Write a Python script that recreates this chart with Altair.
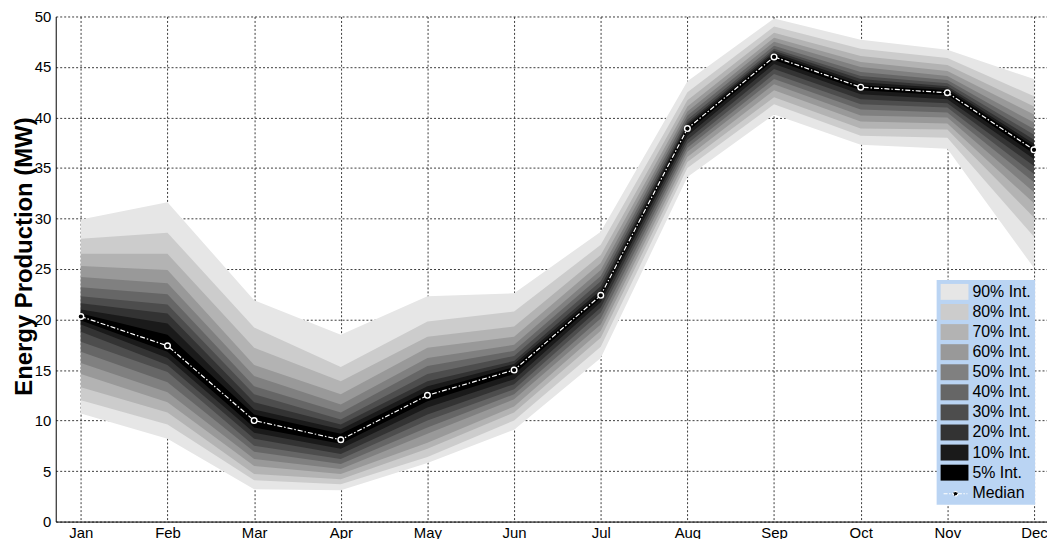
import altair as alt
import pandas as pd

months = ["Jan", "Feb", "Mar", "Apr", "May", "Jun", "Jul", "Aug", "Sep", "Oct", "Nov", "Dec"]

# upper bounds of each interval (MW)
hi90 = [29.9, 31.6, 21.9, 18.5, 22.3, 22.6, 28.7, 43.6, 49.8, 47.7, 46.7, 43.8]
hi80 = [28.0, 28.6, 19.2, 15.3, 19.8, 20.8, 27.4, 42.5, 49.0, 46.8, 45.9, 42.1]
hi70 = [26.5, 26.5, 17.2, 13.9, 18.3, 19.3, 26.4, 41.7, 48.4, 46.1, 45.2, 41.1]
hi60 = [25.3, 24.9, 15.5, 12.6, 17.2, 18.3, 25.6, 41.1, 47.9, 45.5, 44.6, 40.3]
hi50 = [24.2, 23.6, 14.4, 11.6, 16.2, 17.5, 24.9, 40.6, 47.5, 45.0, 44.1, 39.5]
hi40 = [23.2, 22.5, 13.4, 10.8, 15.4, 16.9, 24.3, 40.2, 47.1, 44.5, 43.7, 38.85]
hi30 = [22.3, 21.5, 12.6, 10.1, 14.6, 16.4, 23.8, 39.8, 46.8, 44.1, 43.4, 38.3]
hi20 = [21.6, 20.6, 11.8, 9.6, 13.9, 15.9, 23.3, 39.5, 46.6, 43.8, 43.1, 37.8]
hi10 = [21.0, 19.6, 11.1, 9.15, 13.4, 15.6, 22.9, 39.3, 46.4, 43.5, 42.9, 37.4]
hi05 = [20.6, 18.5, 10.6, 8.7, 12.9, 15.3, 22.6, 39.1, 46.2, 43.2, 42.7, 37.1]

median = [20.3, 17.4, 10.0, 8.1, 12.5, 15.0, 22.4, 38.9, 46.0, 43.0, 42.45, 36.8]

# lower bounds of each interval (MW)
lo05 = [19.9, 16.8, 9.3, 7.7, 11.9, 14.6, 22.1, 38.6, 45.7, 42.7, 42.2, 36.4]
lo10 = [19.5, 16.2, 8.8, 7.2, 11.3, 14.1, 21.7, 38.2, 45.3, 42.3, 41.8, 35.9]
lo20 = [18.8, 15.5, 8.2, 6.7, 10.6, 13.6, 21.2, 37.8, 44.8, 41.8, 41.4, 35.2]
lo30 = [17.8, 14.8, 7.5, 6.2, 10.0, 13.1, 20.7, 37.4, 44.3, 41.3, 41.0, 34.4]
lo40 = [16.8, 13.8, 6.9, 5.7, 9.3, 12.6, 20.1, 37.0, 43.8, 40.8, 40.5, 33.6]
lo50 = [15.7, 12.8, 6.2, 5.2, 8.7, 12.1, 19.5, 36.6, 43.3, 40.2, 40.0, 32.6]
lo60 = [14.6, 11.8, 5.5, 4.7, 7.8, 11.4, 18.9, 36.1, 42.7, 39.6, 39.4, 31.5]
lo70 = [13.3, 10.8, 4.7, 4.2, 7.2, 10.8, 18.2, 35.6, 42.0, 38.9, 38.8, 30.1]
lo80 = [12.0, 9.6, 4.1, 3.7, 6.4, 10.0, 17.3, 35.0, 41.3, 38.2, 38.0, 28.2]
lo90 = [10.7, 8.2, 3.2, 3.1, 5.8, 9.1, 16.2, 34.1, 40.3, 37.3, 36.9, 25.1]

band_names = ["90% Int.", "80% Int.", "70% Int.", "60% Int.", "50% Int.",
              "40% Int.", "30% Int.", "20% Int.", "10% Int.", "5% Int."]
band_colors = ["#e6e6e6", "#cccccc", "#b3b3b3", "#999999", "#808080",
               "#666666", "#4d4d4d", "#333333", "#1a1a1a", "#000000"]
his = [hi90, hi80, hi70, hi60, hi50, hi40, hi30, hi20, hi10, hi05]
los = [lo90, lo80, lo70, lo60, lo50, lo40, lo30, lo20, lo10, lo05]

rows = []
for name, hi, lo in zip(band_names, his, los):
    for i in range(12):
        rows.append({"band": name, "m": i, "lo": lo[i], "hi": hi[i]})
bands_df = pd.DataFrame(rows)
med_df = pd.DataFrame({"m": list(range(12)), "median": median, "series": ["Median"] * 12})

FONT = "Liberation Sans"
month_expr = "[" + ",".join("'%s'" % m for m in months) + "][datum.value]"

x_enc = alt.X("m:Q",
              scale=alt.Scale(domain=[-0.29, 11.15], nice=False, zero=False),
              axis=alt.Axis(values=list(range(12)), labelExpr=month_expr, title=None,
                            grid=True, ticks=False, labelPadding=4, labelFontSize=15))
y_axis = alt.Axis(values=list(range(0, 51, 5)), title="Energy Production (MW)",
                  grid=True, ticks=False, labelPadding=5, labelFontSize=15,
                  titleFontSize=24, titleFontWeight="bold", titleX=-31, titleY=241,
                  titleAngle=270, titleBaseline="middle", titleAlign="center")
y_scale = alt.Scale(domain=[0, 50], nice=False, zero=False)

legend_path = "M-1.75,-1L1.75,-1L1.75,1L-1.75,1Z"
fill_enc = alt.Fill("band:N",
                    scale=alt.Scale(domain=band_names + ["Median"], range=band_colors + ["transparent"]),
                    legend=alt.Legend(orient="none", legendX=886, legendY=265, title=None,
                                      fillColor="#bad4f3", padding=4,
                                      symbolType=legend_path, symbolSize=256, symbolOffset=6,
                                      symbolStrokeWidth=0, symbolOpacity=1,
                                      labelOffset=10, labelFontSize=16, labelFont=FONT,
                                      labelExpr="datum.label == '5% Int.' ? '\u00a0\u00a05% Int.' : datum.label",
                                      labelColor="black", rowPadding=4.2, labelLimit=200))

layers = []
for name in band_names:
    layers.append(
        alt.Chart(bands_df).transform_filter(alt.datum.band == name)
        .mark_area(interpolate="linear", opacity=1)
        .encode(x=x_enc,
                y=alt.Y("lo:Q", scale=y_scale, axis=y_axis),
                y2="hi:Q",
                fill=fill_enc)
    )

median_path = "M-1.5,0L-0.3,0M0.3,0L1.5,0M0.28,0A0.28,0.28,0,1,1,-0.28,0A0.28,0.28,0,1,1,0.28,0Z"
line = alt.Chart(med_df).mark_line(strokeWidth=1.2, strokeDash=[5, 2, 1.5, 2]).encode(
    x=x_enc,
    y=alt.Y("median:Q", scale=y_scale),
    stroke=alt.Stroke("series:N", scale=alt.Scale(domain=["Median"], range=["white"]),
                      legend=alt.Legend(orient="none", legendX=886, legendY=467, title=None,
                                        padding=4, symbolType=median_path, symbolSize=256,
                                        symbolOffset=6, symbolFillColor="black",
                                        symbolStrokeColor="white", symbolStrokeWidth=1.2,
                                        symbolDash=[4, 1.5, 1.5, 1.5],
                                        labelExpr="''", labelFontSize=16)),
)
points = alt.Chart(med_df).mark_point(filled=True, fill="black", stroke="white",
                                      strokeWidth=1.4, size=32, opacity=1).encode(
    x=x_enc,
    y=alt.Y("median:Q", scale=y_scale),
)

chart = alt.layer(*layers, line, points).properties(
    width=997, height=508,
    padding={"left": 48, "top": 7, "right": 0, "bottom": 16},
    autosize=alt.AutoSizeParams(type="none"),
).configure_view(stroke=None).configure_axis(
    labelFont=FONT, titleFont=FONT, labelColor="black", titleColor="black",
    domainColor="black", domainWidth=1,
    gridColor="#3a3a3a", gridDash=[2, 2], gridWidth=1, gridOpacity=1,
)

chart.save("out.html", embed_options={"renderer": "svg", "actions": False})
